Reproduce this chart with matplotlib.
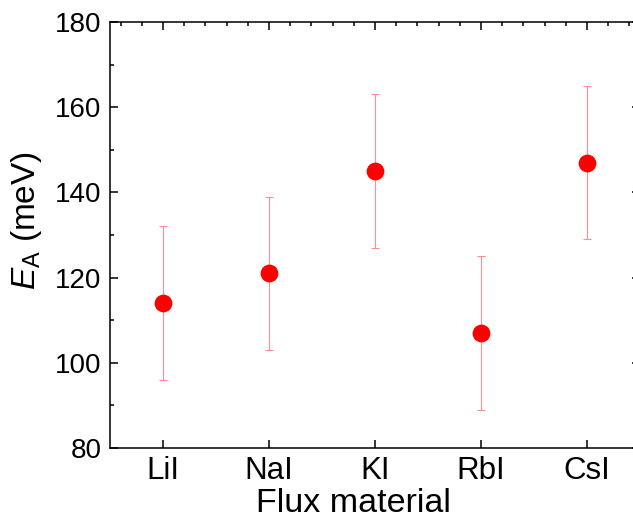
import matplotlib
matplotlib.use("Agg")
import matplotlib.pyplot as plt
from matplotlib.ticker import MultipleLocator

plt.rcParams['font.family'] = ['Liberation Sans', 'DejaVu Sans']
plt.rcParams['mathtext.fontset'] = 'custom'
plt.rcParams['mathtext.rm'] = 'Liberation Sans'
plt.rcParams['mathtext.it'] = 'Liberation Sans:italic'

# data
materials = ['LiI', 'NaI', 'KI', 'RbI', 'CsI']
ea_values = [114, 121, 145, 107, 147]
ea_errors = [18, 18, 18, 18, 18]

fig = plt.figure(figsize=(6.33, 5.19), dpi=100)
# right spine sits just outside the picture in the reference
ax = fig.add_axes([110 / 633, 71 / 519, 530 / 633, 426 / 519])

xpos = list(range(1, len(materials) + 1))
ax.errorbar(xpos, ea_values, yerr=ea_errors, fmt='none', ecolor='#ff8f8f',
            elinewidth=0.8, capsize=3.1, capthick=0.8, zorder=2)
ax.plot(xpos, ea_values, 'o', color='#ff0000', markersize=12.8,
        markeredgewidth=0, zorder=3)

ax.set_xlim(0.5, 5.5)
ax.set_ylim(80, 180)
ax.set_xticks(xpos)
ax.set_xticklabels(materials)
ax.xaxis.set_minor_locator(MultipleLocator(0.2))
ax.yaxis.set_major_locator(MultipleLocator(20))
ax.yaxis.set_minor_locator(MultipleLocator(10))

for s in ax.spines.values():
    s.set_linewidth(1.1)

ax.tick_params(which='both', direction='in', top=True, right=True, width=1.1)
ax.tick_params(which='major', length=5.5)
ax.tick_params(which='minor', length=2.8)
ax.tick_params(axis='x', which='minor', bottom=False)
ax.tick_params(axis='x', which='major', labelsize=22.5, pad=5.5)
ax.tick_params(axis='y', which='major', labelsize=20, pad=6)

ax.set_xlabel('Flux material', fontsize=24.5, labelpad=0)
ax.set_ylabel(r'$\mathit{E}_\mathrm{A}$ (meV)', fontsize=24)
ax.xaxis.set_label_coords((353 - 110) / 530, -0.093)
ax.yaxis.set_label_coords((44 - 110) / 530, (447 - 220) / 426)

fig.savefig('out.png', dpi=100)
